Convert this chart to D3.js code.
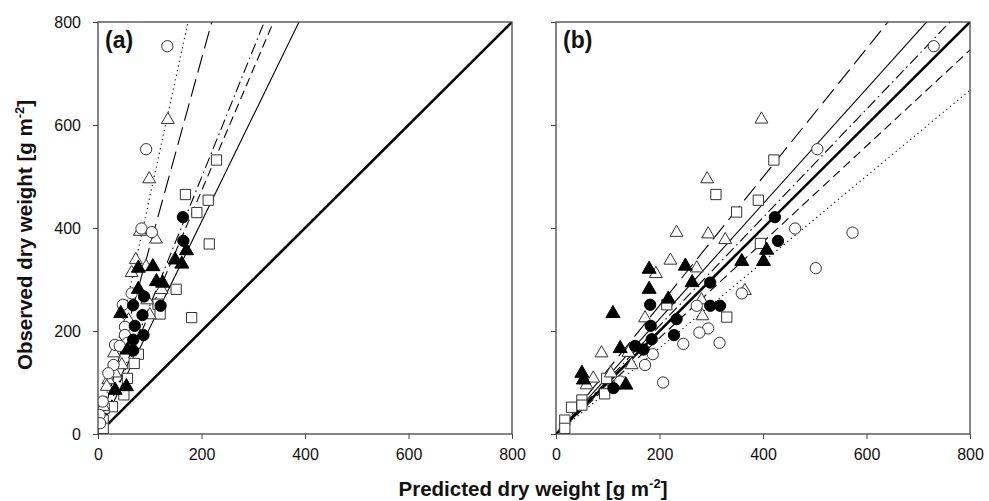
<!DOCTYPE html>
<html>
<head>
<meta charset="utf-8">
<script src="https://cdn.jsdelivr.net/npm/d3@7.9.0/dist/d3.min.js"></script>
<style>
  body { margin: 0; background: #fff; }
  text { font-family: Arial, "Liberation Sans", sans-serif; fill: #111; }
</style>
</head>
<body>
<svg id="chart" width="989" height="501"></svg>
<script>
// axis ticks
const ticks = [0, 200, 400, 600, 800];

// panel (a): [predicted, observed]
const openCircA = [[134,753],[93,553],[84,399],[104,392],[65,273],[48,251],[52,208],[52,192],[57,177],[33,173],[42,171],[30,134],[20,118],[9,63],[3,37],[4,21]];
const openTriA = [[135,610],[99,495],[81,393],[112,378],[73,338],[93,325],[65,313],[123,280],[95,260],[100,231],[59,221],[31,157],[46,134],[33,118],[20,105],[17,92],[10,53]];
const fillCircA = [[164,421],[165,375],[89,267],[68,250],[121,249],[86,231],[71,210],[88,192],[68,183],[68,162]];
const fillTriA = [[171,356],[149,338],[162,330],[78,322],[106,325],[113,296],[125,293],[78,281],[44,234],[57,163],[55,92],[33,85]];
const squareA = [[229,532],[169,465],[213,454],[191,430],[215,369],[151,281],[116,252],[120,233],[181,226],[78,155],[70,137],[57,108],[50,76],[28,53],[12,50],[10,27],[10,11]];

// panel (b)
const openCircB = [[730,753],[505,553],[462,399],[573,391],[502,322],[359,273],[272,249],[294,205],[277,197],[246,175],[316,177],[187,155],[172,134],[207,100],[124,102]];
const openTriB = [[397,611],[292,495],[233,391],[294,388],[327,377],[221,337],[272,322],[193,311],[365,278],[281,260],[172,225],[283,229],[88,157],[140,158],[146,134],[106,118],[72,108],[59,95]];
const fillCircB = [[423,421],[429,375],[298,294],[182,251],[298,249],[317,249],[233,223],[183,210],[228,192],[185,184],[153,171],[169,164],[111,89]];
const fillTriB = [[407,357],[401,335],[359,335],[250,326],[180,320],[263,294],[180,281],[217,262],[110,234],[124,166],[135,95],[50,118],[53,105]];
const squareB = [[421,532],[309,465],[391,454],[349,431],[395,370],[214,251],[330,227],[98,108],[94,78],[50,66],[50,56],[30,52],[17,27],[17,11]];

// regression slopes (through origin): dotted, long dash, dash-dot, short dash, thin solid
const lineNames = ['dotted', 'longdash', 'dashdot', 'shortdash', 'solid'];
const slopesA = [4.6, 3.64, 2.49, 2.36, 2.06];
const slopesB = [0.835, 1.247, 1.051, 0.932, 1.117];

const dashes = {
  dotted: '1.2,3.5',
  longdash: '18,7',
  dashdot: '11,4,1.5,4',
  shortdash: '9,5',
  solid: null
};

const svg = d3.select('#chart');
const plotTop = 22, plotBottom = 434;
const y = d3.scaleLinear().domain([0, 800]).range([plotBottom, plotTop]);

function drawPanel(left, right, label, id, series, slopes, showYLabels) {
  const x = d3.scaleLinear().domain([0, 800]).range([left, right]);
  const g = svg.append('g');

  g.append('clipPath').attr('id', id)
    .append('rect').attr('x', left).attr('y', plotTop)
    .attr('width', right - left).attr('height', plotBottom - plotTop);

  const plot = g.append('g').attr('clip-path', `url(#${id})`);

  // 1:1 line
  plot.append('line')
    .attr('x1', x(0)).attr('y1', y(0)).attr('x2', x(800)).attr('y2', y(800))
    .attr('stroke', '#000').attr('stroke-width', 2.6);

  // fitted lines
  slopes.forEach((s, i) => {
    plot.append('line')
      .attr('x1', x(0)).attr('y1', y(0))
      .attr('x2', x(800)).attr('y2', y(800 * s))
      .attr('stroke', '#000').attr('stroke-width', 1.1)
      .attr('stroke-dasharray', dashes[lineNames[i]]);
  });

  // markers
  series.forEach(sr => {
    const sym = d3.symbol().type(sr.type).size(sr.size);
    plot.selectAll(null).data(sr.data).join('path')
      .attr('d', sym)
      .attr('transform', d => `translate(${x(d[0])},${y(d[1])})`)
      .attr('fill', sr.filled ? '#000' : '#fff')
      .attr('stroke', sr.filled ? '#000' : '#333')
      .attr('stroke-width', 1);
  });

  // frame
  g.append('rect').attr('x', left).attr('y', plotTop)
    .attr('width', right - left).attr('height', plotBottom - plotTop)
    .attr('fill', 'none').attr('stroke', '#444').attr('stroke-width', 1.3);

  // axes
  const xa = g.append('g').attr('transform', `translate(0,${plotBottom})`)
    .call(d3.axisBottom(x).tickValues(ticks).tickSize(5).tickSizeOuter(0).tickPadding(10));
  const ya = g.append('g').attr('transform', `translate(${left},0)`)
    .call(d3.axisLeft(y).tickValues(ticks).tickSize(5).tickSizeOuter(0).tickPadding(12));
  [xa, ya].forEach(a => {
    a.select('.domain').remove();
    a.selectAll('line').attr('stroke', '#444');
    a.selectAll('text').style('font-size', '16px').style('fill', '#111')
      .style('font-family', 'Arial, "Liberation Sans", sans-serif');
  });
  if (!showYLabels) ya.selectAll('text').remove();

  g.append('text').attr('x', left + 7).attr('y', 48)
    .style('font-size', '23px').style('font-weight', 'bold').text(label);
}

function seriesOf(oc, ot, fc, ft, sq) {
  return [
    { data: sq, type: d3.symbolSquare, size: 105, filled: false },
    { data: ot, type: d3.symbolTriangle, size: 72, filled: false },
    { data: oc, type: d3.symbolCircle, size: 100, filled: false },
    { data: ft, type: d3.symbolTriangle, size: 85, filled: true },
    { data: fc, type: d3.symbolCircle, size: 100, filled: true }
  ];
}

drawPanel(98, 512, '(a)', 'clipA', seriesOf(openCircA, openTriA, fillCircA, fillTriA, squareA), slopesA, true);
drawPanel(556, 970, '(b)', 'clipB', seriesOf(openCircB, openTriB, fillCircB, fillTriB, squareB), slopesB, false);

// axis titles
const xt = svg.append('text').attr('x', 533).attr('y', 496).attr('text-anchor', 'middle')
  .style('font-size', '20.5px').style('font-weight', 'bold');
xt.append('tspan').text('Predicted dry weight [g m');
xt.append('tspan').attr('dy', -8).style('font-size', '13px').text('-2');
xt.append('tspan').attr('dy', 8).text(']');

const yt = svg.append('text').attr('transform', 'translate(32,235) rotate(-90)').attr('text-anchor', 'middle')
  .style('font-size', '20.5px').style('font-weight', 'bold');
yt.append('tspan').text('Observed dry weight [g m');
yt.append('tspan').attr('dy', -8).style('font-size', '13px').text('-2');
yt.append('tspan').attr('dy', 8).text(']');
</script>
</body>
</html>
